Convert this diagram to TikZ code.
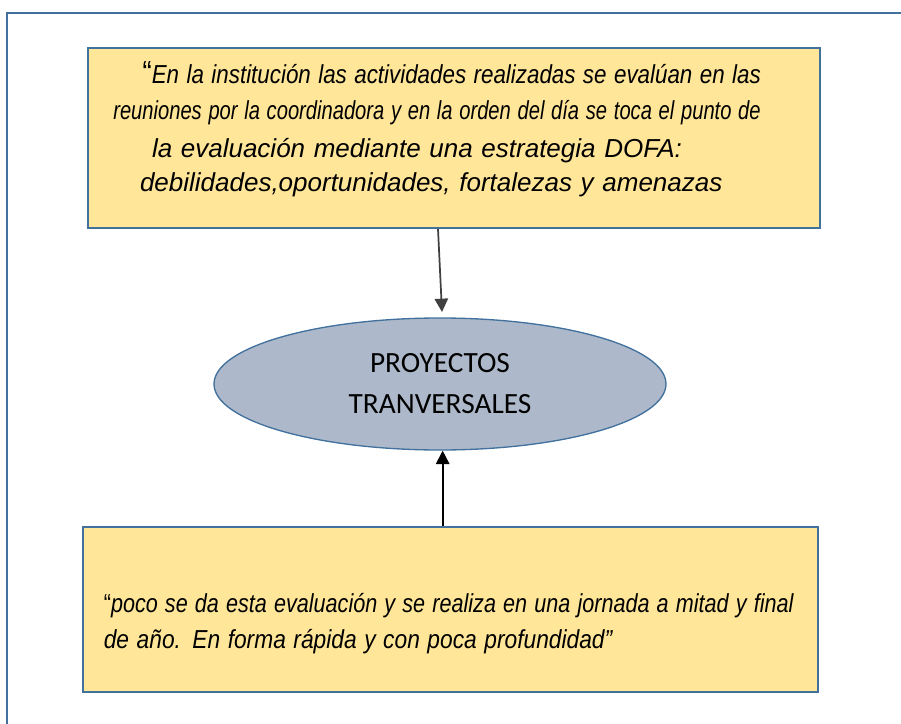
\documentclass[tikz,border=0pt]{standalone}
\usepackage{fontspec}
\setmainfont{Liberation Sans}
\newfontfamily\calibrifont{Carlito}
\usepackage{xcolor}
\usepackage{graphicx}
\usetikzlibrary{shapes.geometric, arrows, arrows.meta, positioning}
\definecolor{gold}{HTML}{FFE699}
\definecolor{steel}{HTML}{41719C}
\definecolor{slate}{HTML}{ADB9CA}
\definecolor{darkarrow}{HTML}{404040}
\tikzstyle{cita} = [rectangle, draw=steel, fill=gold, line width=1.3pt, align=left, font=\itshape\fontsize{19.5}{28.5}\selectfont]
\tikzstyle{oval} = [ellipse, minimum width=339pt, minimum height=99pt, draw=steel, fill=slate, line width=1pt, align=center, font=\calibrifont\fontsize{22}{30.75}\selectfont]
\tikzstyle{arrow} = [line width=1.3pt, -{Triangle[length=10pt,width=10pt]}]
\tikzstyle{frame} = [steel, line width=2.2pt]

\begin{document}
\begin{tikzpicture}[x=0.75pt, y=-0.75pt]
    \useasboundingbox (0,0) rectangle (901,724);
    \draw[frame] (7,730) -- (7,13) -- (910,13);

    \node (cita1) [cita, minimum width=549pt, minimum height=135pt, text width=511pt, inner xsep=19pt] at (454,138)
        {\hspace*{22pt}\scalebox{0.86}[1]{{\upshape\fontsize{24}{28}\selectfont “}En la institución las actividades realizadas se evalúan en las}\\[-1.5pt]
         \scalebox{0.775}[1]{reuniones por la coordinadora y en la orden del día se toca el punto de}\\
         \hspace*{29pt}la evaluación mediante una estrategia DOFA:\\[-3pt]
         \hspace*{20pt}debilidades,oportunidades, fortalezas y amenazas\rule[-18pt]{0pt}{0pt}};
    \node (proy) [oval] at (440,384) {PROYECTOS\\TRANVERSALES};
    \node (cita2) [cita, minimum width=551pt, minimum height=124pt, text width=520pt, inner xsep=15.5pt, font=\itshape\fontsize{19.5}{27}\selectfont] at (450.5,609.5)
        {\rule{0pt}{36pt}\scalebox{0.83}[1]{{\upshape “}poco se da esta evaluación y se realiza en una jornada a mitad y final}\\
         \scalebox{0.875}[1]{de año. En forma rápida y con poca profundidad”}};

    \draw[arrow, darkarrow] ([xshift=-12pt]cita1.south) -- ([xshift=1.5pt,yshift=4pt]proy.north);
    \draw[arrow, black] ([xshift=2pt]proy.south |- cita2.north) -- ([xshift=2pt]proy.south);
\end{tikzpicture}
\end{document}
